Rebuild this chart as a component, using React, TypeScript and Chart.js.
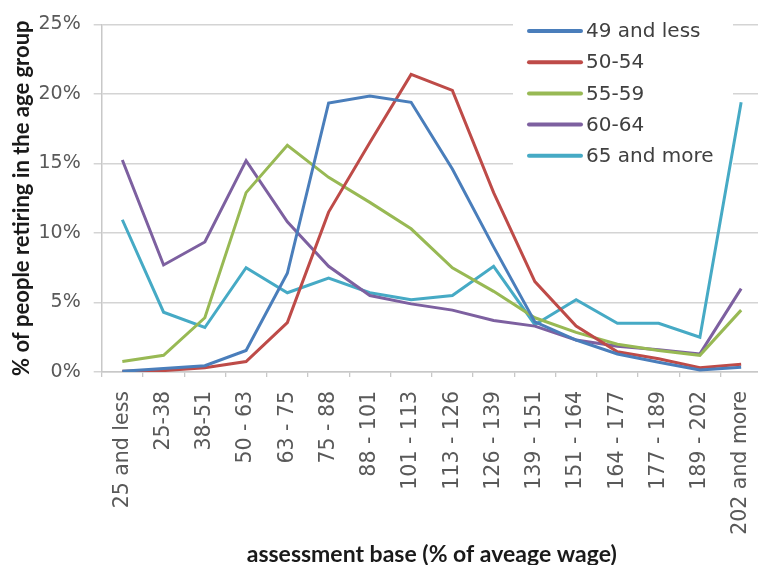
import React, { useEffect, useRef } from "react";
import { Chart, registerables } from "chart.js";

Chart.register(...registerables);

const categories = [
  "25 and less", "25-38", "38-51", "50 - 63", "63 - 75", "75 - 88", "88 - 101",
  "101 - 113", "113 - 126", "126 - 139", "139 - 151", "151 - 164", "164 - 177",
  "177 - 189", "189 - 202", "202 and more",
];

const seriesNames = ["49 and less", "50-54", "55-59", "60-64", "65 and more"];

const age49AndLess = [0.05, 0.25, 0.45, 1.55, 7.1, 19.35, 19.85, 19.4, 14.6, 9.0, 3.6, 2.3, 1.3, 0.7, 0.15, 0.35];
const age50to54 = [0.05, 0.1, 0.3, 0.75, 3.55, 11.5, 16.5, 21.4, 20.25, 12.9, 6.5, 3.3, 1.45, 0.95, 0.3, 0.55];
const age55to59 = [0.75, 1.2, 3.9, 12.9, 16.3, 14.0, 12.2, 10.3, 7.5, 5.8, 3.9, 2.85, 2.0, 1.55, 1.2, 4.45];
const age60to64 = [15.25, 7.7, 9.35, 15.2, 10.8, 7.6, 5.5, 4.9, 4.45, 3.7, 3.3, 2.3, 1.85, 1.6, 1.3, 6.0];
const age65AndMore = [10.95, 4.3, 3.2, 7.5, 5.7, 6.75, 5.7, 5.2, 5.5, 7.6, 3.4, 5.2, 3.5, 3.5, 2.5, 19.4];

const yTickValues = [0, 5, 10, 15, 20, 25];

const colors = ["#4a7ebb", "#be4b48", "#98b954", "#7d60a0", "#46aac5"];
const TEXT_FONT = "'DejaVu Sans', sans-serif";
const TITLE_FONT = "Lato, 'Open Sans', sans-serif";

const insideLegend = {
  id: "insideLegend",
  beforeDatasetsDraw(chart: any) {
    const ctx = chart.ctx;
    ctx.save();
    ctx.fillStyle = "#ffffff";
    ctx.fillRect(513, 6, 220, 166);
    const x0 = 529;
    const x1 = 581;
    const y0 = 31;
    const step = 31.2;
    ctx.font = `20px ${TEXT_FONT}`;
    ctx.textBaseline = "middle";
    chart.data.datasets.forEach((ds: any, i: number) => {
      const y = y0 + step * i;
      ctx.strokeStyle = ds.borderColor;
      ctx.lineWidth = 4;
      ctx.lineCap = "round";
      ctx.beginPath();
      ctx.moveTo(x0, y);
      ctx.lineTo(x1, y);
      ctx.stroke();
      ctx.fillStyle = "#404040";
      ctx.fillText(ds.label, 586, y + 1);
    });
    ctx.restore();
  },
};

export default function App() {
  const canvasRef = useRef<HTMLCanvasElement | null>(null);

  useEffect(() => {
    if (!canvasRef.current) return;
    const allSeries = [age49AndLess, age50to54, age55to59, age60to64, age65AndMore];
    const chart = new Chart(canvasRef.current, {
      type: "line",
      data: {
        labels: categories,
        datasets: allSeries.map((data, i) => ({
          label: seriesNames[i],
          data,
          borderColor: colors[i],
          backgroundColor: colors[i],
          borderWidth: 3,
          pointRadius: 0,
          tension: 0,
          fill: false,
        })),
      },
      options: {
        animation: false,
        responsive: true,
        maintainAspectRatio: false,
        layout: { autoPadding: false, padding: { top: 19, right: 8, bottom: 0, left: 0 } },
        plugins: {
          legend: { display: false },
          tooltip: { enabled: false },
        },
        scales: {
          x: {
            offset: true,
            grid: {
              offset: true,
              drawOnChartArea: false,
              drawTicks: true,
              tickLength: 5,
              color: "#c8c8c8",
              lineWidth: 1.3,
            },
            border: { color: "#c8c8c8", width: 1.5 },
            ticks: {
              autoSkip: false,
              maxRotation: 90,
              minRotation: 90,
              padding: 14,
              color: "#595959",
              font: { family: TEXT_FONT, size: 20.5 },
            },
            title: {
              display: true,
              text: "assessment base (% of aveage wage)",
              color: "#1a1a1a",
              font: { family: TITLE_FONT, size: 23, weight: "bold" },
              padding: { top: 0, bottom: 4 },
            },
            afterFit(scale: any) {
              scale.height = 200;
            },
          },
          y: {
            min: 0,
            max: 25,
            afterBuildTicks(scale: any) {
              scale.ticks = yTickValues.map((v) => ({ value: v }));
            },
            grid: {
              color: "#d4d4d4",
              lineWidth: 1.5,
              tickLength: 8,
            },
            border: { color: "#c8c8c8", width: 1.5 },
            ticks: {
              padding: 13,
              color: "#595959",
              font: { family: TEXT_FONT, size: 19 },
              callback: (v: any) => `${v}%`,
            },
            title: {
              display: true,
              text: "% of people retiring in the age group",
              color: "#1a1a1a",
              font: { family: TITLE_FONT, size: 22, weight: "bold" },
              padding: { top: 9, bottom: 0 },
            },
            afterFit(scale: any) {
              scale.width = 101.7;
            },
          },
        },
      },
      plugins: [insideLegend],
    });
    return () => chart.destroy();
  }, []);

  return (
    <div style={{ position: "fixed", left: 0, top: 0, width: 758, height: 565, overflow: "hidden", background: "#fff" }}>
      <div style={{ position: "absolute", left: 0, top: 0, width: 780, height: 572 }}>
        <canvas ref={canvasRef} />
      </div>
    </div>
  );
}
